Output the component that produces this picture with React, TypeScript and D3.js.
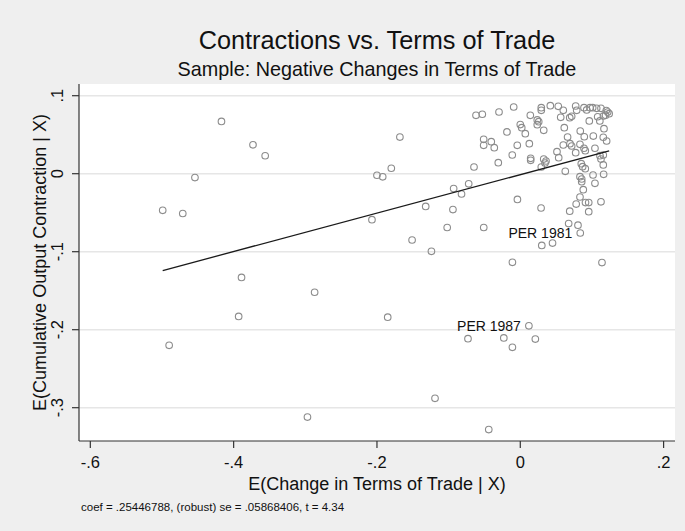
import React from "react";
import * as d3 from "d3";

const W = 685;
const H = 531;

const titleText = "Contractions vs. Terms of Trade";
const subtitleText = "Sample: Negative Changes in Terms of Trade";
const xTitle = "E(Change in Terms of Trade | X)";
const yTitle = "E(Cumulative Output Contraction | X)";
const noteText = "coef = .25446788, (robust) se = .05868406, t = 4.34";

const xTicks = [-0.6, -0.4, -0.2, 0, 0.2];
const xTickLabels = ["-.6", "-.4", "-.2", "0", ".2"];
const yTicks = [-0.3, -0.2, -0.1, 0, 0.1];
const yTickLabels = ["-.3", "-.2", "-.1", "0", ".1"];

// E(Change in Terms of Trade | X)
const xVals = [
  -0.417, -0.373, -0.356, -0.454, -0.499, -0.471, -0.207, -0.2, -0.192, -0.18,
  -0.168, -0.151, -0.124, -0.132, -0.389, -0.287, -0.393, -0.49, -0.185, -0.297,
  -0.119, -0.044, -0.073, -0.023, -0.011, 0.012, 0.021, -0.011, 0.114, -0.094,
  -0.102, -0.051, -0.004, 0.029, 0.069, 0.078, 0.091, 0.0955, 0.0955, 0.1126,
  0.0675, 0.0805, 0.0837, 0.03, 0.045, -0.093, -0.082, -0.072,
  -0.0618, -0.053, -0.0297, -0.0092, 0.014, 0.0293, 0.0293, 0.0419, 0.053, 0.06,
  0.0564, 0.069, 0.0717, 0.0773, 0.0787, 0.0889, 0.0927, 0.0973, 0.101, 0.1066,
  0.1126, 0.12, 0.122, 0.124, 0.119, 0.116, 0.108, 0.0963, 0.111, 0.0,
  0.002, 0.0237, 0.0257, 0.0237, 0.0614, 0.0327, -0.0186, 0.007, 0.0837, 0.1168,
  0.066, 0.0893, 0.1019, 0.1158, 0.1205, -0.0511, -0.0405, -0.0511, -0.0363, -0.0042,
  0.0126, -0.0112, -0.0307, -0.0646, 0.0145, 0.0145, 0.0327, 0.0359, 0.0345, 0.0293,
  0.0512, 0.0536, 0.06, 0.0694, 0.0717, 0.0773, 0.0833, 0.0889, 0.0907, 0.1042,
  0.1112, 0.1158, 0.1126, 0.1158, 0.0628, 0.0851, 0.087, 0.0907, 0.1015, 0.1163,
  0.0833, 0.0857, 0.0857, 0.1042, 0.0879, 0.0833,
];

// E(Cumulative Output Contraction | X)
const yVals = [
  0.067, 0.037, 0.023, -0.005, -0.047, -0.051, -0.059, -0.002, -0.004, 0.007,
  0.047, -0.085, -0.0995, -0.042, -0.133, -0.152, -0.183, -0.22, -0.184, -0.312,
  -0.288, -0.328, -0.2115, -0.2106, -0.2226, -0.195, -0.212, -0.1136, -0.114, -0.046,
  -0.069, -0.069, -0.033, -0.044, -0.048, -0.039, -0.037, -0.037, -0.0487, -0.036,
  -0.064, -0.066, -0.076, -0.092, -0.089, -0.019, -0.026, -0.013,
  0.0749, 0.0762, 0.0791, 0.0855, 0.0749, 0.0846, 0.0813, 0.0872, 0.0864, 0.0813,
  0.0723, 0.0718, 0.0736, 0.0868, 0.0813, 0.0846, 0.0817, 0.0846, 0.0846, 0.0838,
  0.0838, 0.081, 0.079, 0.077, 0.075, 0.074, 0.073, 0.0676, 0.0676, 0.063,
  0.059, 0.069, 0.0667, 0.0628, 0.059, 0.0556, 0.0535, 0.0513, 0.0547, 0.0577,
  0.047, 0.0474, 0.0483, 0.0467, 0.0419, 0.0441, 0.041, 0.0364, 0.0333, 0.0364,
  0.0385, 0.024, 0.0141, 0.0086, 0.0197, 0.0172, 0.0188, 0.0163, 0.0137, 0.0086,
  0.0282, 0.0205, 0.0368, 0.0385, 0.0355, 0.0269, 0.0377, 0.0326, 0.0295, 0.0326,
  0.0231, 0.024, 0.0188, 0.0112, 0.003, 0.0128, 0.009, 0.0064, -0.0017, -0.0008,
  -0.0038, -0.0068, -0.0103, -0.0123, -0.0205, -0.0299,
];

const pointLabels = [
  { index: 42, label: "PER 1981" },
  { index: 25, label: "PER 1987" },
];

const FONT = "'Liberation Sans', Arial, Helvetica, sans-serif";

export default function App() {
  const plotLeft = 79;
  const plotRight = 675;
  const plotTop = 84;
  const plotBottom = 441;

  const x = d3.scaleLinear().domain([-0.6158, 0.2159]).range([plotLeft, plotRight]);
  const y = d3.scaleLinear().domain([-0.3427, 0.115]).range([plotBottom, plotTop]);

  const pts = xVals.map((v, i) => ({ x: v, y: yVals[i] }));

  // OLS fit
  const mx = d3.mean(xVals) as number;
  const my = d3.mean(yVals) as number;
  let sxy = 0;
  let sxx = 0;
  pts.forEach((p) => {
    sxy += (p.x - mx) * (p.y - my);
    sxx += (p.x - mx) * (p.x - mx);
  });
  const b = sxy / sxx;
  const a = my - b * mx;
  const [xmin, xmax] = d3.extent(xVals) as [number, number];
  const fitLine = d3
    .line<number>()
    .x((v) => x(v))
    .y((v) => y(a + b * v))([xmin, xmax]);

  const cx = (plotLeft + plotRight) / 2;
  const cy = (plotTop + plotBottom) / 2;

  return (
    <svg
      width={W}
      height={H}
      style={{ position: "absolute", left: 0, top: 0, fontFamily: FONT }}
    >
      <rect x={0} y={0} width={W} height={H} fill="#efefef" />
      <rect
        x={plotLeft}
        y={plotTop}
        width={plotRight - plotLeft}
        height={plotBottom - plotTop}
        fill="#ffffff"
      />
      {yTicks.map((t) => (
        <line
          key={"g" + t}
          x1={plotLeft}
          x2={plotRight}
          y1={y(t)}
          y2={y(t)}
          stroke="#e6e6e6"
          strokeWidth={1.5}
        />
      ))}
      {/* axes */}
      <line x1={plotLeft} x2={plotLeft} y1={plotTop} y2={plotBottom} stroke="#333" strokeWidth={1.2} />
      <line x1={plotLeft} x2={plotRight} y1={plotBottom} y2={plotBottom} stroke="#333" strokeWidth={1.2} />
      {yTicks.map((t, i) => (
        <g key={"yt" + t}>
          <line x1={plotLeft - 7} x2={plotLeft} y1={y(t)} y2={y(t)} stroke="#333" strokeWidth={1.2} />
          <text
            transform={`translate(${plotLeft - 16},${y(t)}) rotate(-90)`}
            textAnchor="middle"
            fontSize={16.5}
            fill="#111"
          >
            {yTickLabels[i]}
          </text>
        </g>
      ))}
      {xTicks.map((t, i) => (
        <g key={"xt" + t}>
          <line x1={x(t)} x2={x(t)} y1={plotBottom} y2={plotBottom + 7} stroke="#333" strokeWidth={1.2} />
          <text x={x(t)} y={plotBottom + 27} textAnchor="middle" fontSize={16.5} fill="#111">
            {xTickLabels[i]}
          </text>
        </g>
      ))}
      {/* markers */}
      {pts.map((p, i) => (
        <circle
          key={"p" + i}
          cx={x(p.x)}
          cy={y(p.y)}
          r={3.3}
          fill="none"
          stroke="#8c8c8c"
          strokeWidth={1.1}
        />
      ))}
      {pointLabels.map((l) => (
        <text
          key={l.label}
          x={x(xVals[l.index]) - 8}
          y={y(yVals[l.index])}
          dy="0.35em"
          textAnchor="end"
          fontSize={14}
          fill="#111"
        >
          {l.label}
        </text>
      ))}
      {fitLine && <path d={fitLine} fill="none" stroke="#1a1a1a" strokeWidth={1.3} />}
      {/* titles */}
      <text x={cx} y={49} textAnchor="middle" fontSize={25.3} fill="#111">
        {titleText}
      </text>
      <text x={cx} y={76} textAnchor="middle" fontSize={19.8} fill="#111">
        {subtitleText}
      </text>
      <text x={cx} y={490} textAnchor="middle" fontSize={18} fill="#111">
        {xTitle}
      </text>
      <text
        transform={`translate(46,${cy}) rotate(-90)`}
        textAnchor="middle"
        fontSize={18}
        fill="#111"
      >
        {yTitle}
      </text>
      <text x={81} y={511} fontSize={11.5} fill="#111">
        {noteText}
      </text>
    </svg>
  );
}
